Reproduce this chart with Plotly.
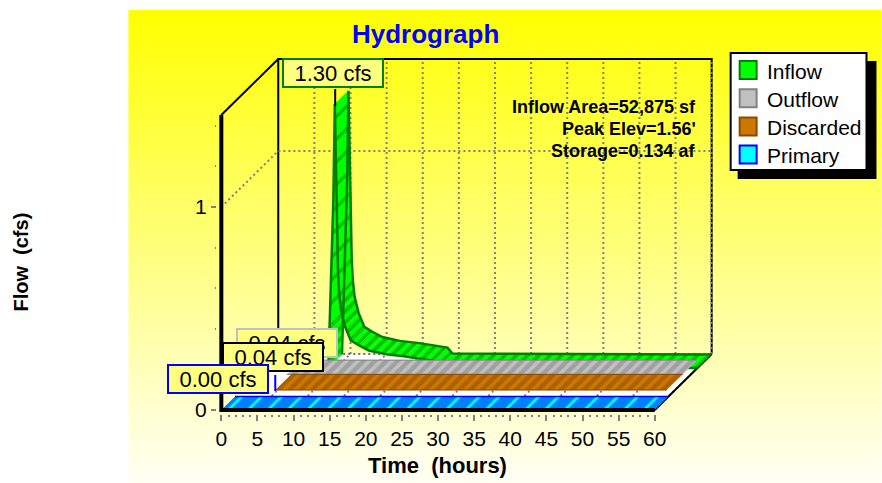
import plotly.graph_objects as go

# ---- data ----
inflow_t = [8.9, 9.05, 9.6, 9.8, 9.95, 10.1, 10.25, 10.4, 10.65, 11.2, 12.0, 13.1, 14.5, 16.9, 19.6, 23.5, 24.2, 60]
inflow_v = [0.0, 0.20, 0.83, 1.30, 1.00, 0.64, 0.465, 0.367, 0.284, 0.205, 0.136, 0.112, 0.086, 0.067, 0.056, 0.034, 0.005, 0.0]
outflow_t = [5.2, 60]
outflow_v = [0.04, 0.04]
discarded_t = [5.8, 60]
discarded_v = [0.04, 0.04]
primary_t = [0, 60]
primary_v = [0.0, 0.0]
peak_labels = ["1.30 cfs", "0.04 cfs", "0.04 cfs", "0.00 cfs"]
series_names = ["Inflow", "Outflow", "Discarded", "Primary"]
x_ticks = list(range(0, 65, 5))
y_ticks = [0, 1]
y_minor = [0.2, 0.4, 0.6, 0.8, 1.2, 1.4]
info_lines = ["Inflow Area=52,875 sf", "Peak Elev=1.56'", "Storage=0.134 af"]

# ---- pseudo-3D layout ----
W, H = 882, 483
X0, Y0 = 221, 410          # pixel of t=0, flow=0 on the front plane
KX, KY = 7.233, 203.0      # pixels per hour, pixels per cfs
DEPTH_T, DEPTH_V = 7.88, 0.276   # shear of the full chart depth, in axis units
T_MAX, V_TOP = 60, 1.453
PAD_T, PAD_V = 0.6, 0.02   # room around the frame so its thick lines are not clipped
FONT = "Liberation Sans"
GREY = "#808080"

# pixel box of the plotting area
left = X0 - PAD_T * KX
right = X0 + (T_MAX + DEPTH_T + PAD_T) * KX
bottom = Y0 + PAD_V * KY
top = Y0 - (V_TOP + DEPTH_V + PAD_V) * KY
plot_w = right - left
plot_h = bottom - top


def px(x):
    return (x - left) / plot_w


def py(y):
    return (bottom - y) / plot_h


def sx(t, depth):
    return t + DEPTH_T * depth


def sy(v, depth):
    return v + DEPTH_V * depth


def path(points, color, width=2, dash=None):
    return go.Scatter(
        x=[sx(p[0], p[2]) for p in points], y=[sy(p[1], p[2]) for p in points],
        mode="lines", line=dict(color=color, width=width, dash=dash),
        hoverinfo="skip", showlegend=False, cliponaxis=False)


def quad(t, v, f0, f1, bg, fg, size, solidity):
    xs = [sx(a, f0) for a in t] + [sx(a, f1) for a in reversed(t)]
    ys = [sy(b, f0) for b in v] + [sy(b, f1) for b in reversed(v)]
    xs.append(xs[0])
    ys.append(ys[0])
    return go.Scatter(
        x=xs, y=ys, mode="lines", fill="toself", fillcolor=bg,
        fillpattern=dict(shape="/", bgcolor=bg, fgcolor=fg, size=size, solidity=solidity),
        line=dict(color=bg, width=0), hoverinfo="skip",
        showlegend=False, cliponaxis=False)


def ribbon(t, v, f0, f1, bg, fg, edge, size, edge_w=1.5, solidity=0.35, steep=None):
    # one parallelogram per data segment, so that steep limbs keep the chart's depth
    for i in range(len(t) - 1):
        tall = steep is not None and max(v[i], v[i + 1]) > steep
        fig.add_trace(quad(t[i:i + 2], v[i:i + 2], f0, f1, bg, fg,
                           size * 2 if tall else size, 0.2 if tall else solidity))
    fig.add_trace(path([(a, b, f0) for a, b in zip(t, v)], edge, edge_w))
    fig.add_trace(path([(a, b, f1) for a, b in zip(t, v)], edge, edge_w))


fig = go.Figure()
DOT = "2px,3px"

# floor
fig.add_trace(go.Scatter(
    x=[sx(0, 0), sx(T_MAX, 0), sx(T_MAX, 1), sx(0, 1), sx(0, 0)],
    y=[sy(0, 0), sy(0, 0), sy(0, 1), sy(0, 1), sy(0, 0)],
    mode="lines", fill="toself", fillcolor="#FFFFFF", line=dict(color="rgba(0,0,0,0)", width=0),
    hoverinfo="skip", showlegend=False, cliponaxis=False))

# wall grid
fig.add_trace(path([(0, 0, 1), (0, V_TOP, 1), (T_MAX, V_TOP, 1), (T_MAX, 0, 1)], "#000000", 2))
for t in x_ticks[1:]:
    fig.add_trace(path([(t, 0, 1), (t, V_TOP, 1)], GREY, 2, DOT))
    fig.add_trace(path([(t, 0, 0), (t, 0, 1)], GREY, 2, DOT))
fig.add_trace(path([(0, 1, 0), (0, 1, 1), (T_MAX, 1, 1)], GREY, 2, DOT))
fig.add_trace(path([(0, 0, 1), (T_MAX, 0, 1)], "#404040", 1.5, DOT))

# frame
fig.add_trace(path([(0, V_TOP, 0), (0, V_TOP, 1)], "#000000", 2))
fig.add_trace(path([(T_MAX, 0, 0), (T_MAX, 0, 1)], "#000000", 2))

# ribbons, back to front
ribbon(inflow_t, inflow_v, 0.75, 0.99, "#00FF00", "#008000", "#008000", 8, 2.5, 0.45, steep=0.4)
ribbon(outflow_t, outflow_v, 0.49, 0.745, "#C0C0C0", "#808080", "#808080", 8, 1, 0.55)
ribbon(discarded_t, discarded_v, 0.21, 0.49, "#CC7700", "#8B4A00", "#8B4A00", 8, 1, 0.55)
ribbon(primary_t, primary_v, 0.0, 0.24, "#00FFFF", "#0000FF", "#0000FF", 14, 1.5, 0.8)

# front axis lines
fig.add_trace(path([(0, V_TOP, 0), (0, 0, 0), (T_MAX, 0, 0)], "#000000", 4))

# background gradient
shapes = []
TOP, N = 10, 95
for i in range(N):
    y0 = TOP + (H - TOP) * i / N
    y1 = TOP + (H - TOP) * (i + 1) / N + 0.5
    b = round(245 * (i + 0.5) / N)
    shapes.append(dict(type="rect", xref="paper", yref="paper", layer="below",
                       x0=px(128), x1=px(882), y0=py(y1), y1=py(y0),
                       line=dict(width=0), fillcolor=f"rgb(255,255,{b})"))


def box(x0, y0, x1, y1, fill, line=None, lw=0):
    shapes.append(dict(type="rect", xref="paper", yref="paper", layer="above",
                       x0=px(x0), x1=px(x1), y0=py(y1), y1=py(y0),
                       line=dict(width=lw, color=line), fillcolor=fill))


def leader(x, y0, y1, color):
    shapes.append(dict(type="line", xref="paper", yref="paper", layer="above",
                       x0=px(x), x1=px(x), y0=py(y1), y1=py(y0),
                       line=dict(width=2, color=color)))


leader(335, 89, 106, "#000000")
leader(275, 375, 391, "#0000FF")

# legend panel
box(738, 61, 877, 179, "#000000")
box(731, 53, 867, 170, "#FFFFFF", "#000000", 2)
legend_styles = [("#00FF00", "#008000"), ("#C0C0C0", "#808080"), ("#CC7700", "#8B4A00"), ("#00FFFF", "#0000FF")]
annotations = []
for i, (name, (c, e)) in enumerate(zip(series_names, legend_styles)):
    yc = 70 + 28.2 * i
    box(740, yc - 9, 757, yc + 9, c, e, 2)
    annotations.append(dict(
        xref="paper", yref="paper", x=px(765), y=py(yc + 1), xanchor="left", yanchor="middle",
        text=name, showarrow=False, font=dict(family=FONT, size=21, color="#000000")))

# value call-outs
callouts = [(236, 328, peak_labels[1], "#C0C0C0"),
            (222, 342, peak_labels[2], "#000000"),
            (167, 364, peak_labels[3], "#0000FF"),
            (282, 58, peak_labels[0], "#008000")]
for x, y, text, col in callouts:
    annotations.append(dict(
        xref="paper", yref="paper", x=px(x), y=py(y), xanchor="left", yanchor="top",
        text=text, showarrow=False, width=98, height=26, borderwidth=2, borderpad=0,
        bordercolor=col, bgcolor="#FFFF80", align="center",
        font=dict(family=FONT, size=22, color="#000000")))
for i, line in enumerate(info_lines):
    annotations.append(dict(
        xref="paper", yref="paper", x=px(698), y=py(107 + 22 * i), xanchor="right", yanchor="middle",
        text="<b>" + line + "</b>", showarrow=False, align="right",
        font=dict(family=FONT, size=18, color="#000000")))
annotations.append(dict(
    xref="paper", yref="paper", x=px(425), y=py(34), xanchor="center", yanchor="middle",
    text="<b>Hydrograph</b>", showarrow=False,
    font=dict(family=FONT, size=26, color="#0000FF")))
annotations.append(dict(
    xref="paper", yref="paper", x=px(437), y=py(466), xanchor="center", yanchor="middle",
    text="<b>Time\u00a0\u00a0(hours)</b>", showarrow=False,
    font=dict(family=FONT, size=22, color="#000000")))
annotations.append(dict(
    xref="paper", yref="paper", x=px(20), y=py(262), xanchor="center", yanchor="middle",
    text="<b>Flow\u00a0\u00a0(cfs)</b>", showarrow=False, textangle=-90,
    font=dict(family=FONT, size=20, color="#000000")))

fig.update_layout(
    width=W, height=H, autosize=False,
    margin=dict(l=left, r=W - right, t=top, b=H - bottom, pad=0, autoexpand=False),
    paper_bgcolor="#FFFFFF", plot_bgcolor="rgba(0,0,0,0)",
    shapes=shapes, annotations=annotations, showlegend=False,
    xaxis=dict(range=[-PAD_T, T_MAX + DEPTH_T + PAD_T], showgrid=False, zeroline=False, showline=False,
               automargin=False,
               tickmode="array", tickvals=x_ticks, ticktext=[str(v) for v in x_ticks],
               ticks="outside", ticklen=6, tickwidth=2, tickcolor=GREY,
               tickfont=dict(family=FONT, size=21, color="#000000"),
               ticklabelstandoff=0,
               minor=dict(tickmode="array", tickvals=[v for v in range(0, 61) if v % 5],
                          ticks="outside", ticklen=2, tickwidth=2, tickcolor=GREY, showgrid=False)),
    yaxis=dict(range=[-PAD_V, V_TOP + DEPTH_V + PAD_V], showgrid=False, zeroline=False, showline=False,
               automargin=False,
               tickmode="array", tickvals=y_ticks, ticktext=[str(v) for v in y_ticks],
               ticks="outside", ticklen=5, tickwidth=2, tickcolor=GREY,
               tickfont=dict(family=FONT, size=21, color="#000000"),
               minor=dict(tickmode="array", tickvals=y_minor, ticks="outside", ticklen=1,
                          tickwidth=2, tickcolor=GREY, showgrid=False)),
)

fig.write_html("out.html", post_script="document.body.style.margin='0';",
               config=dict(displayModeBar=False))
